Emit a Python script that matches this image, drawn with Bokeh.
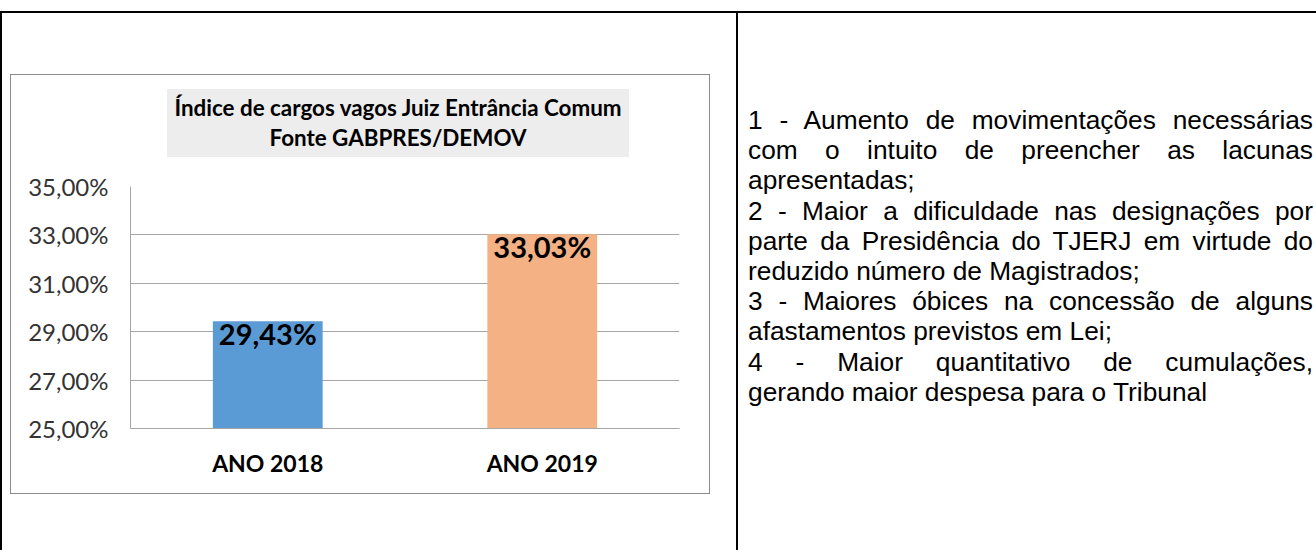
from bokeh.plotting import figure
from bokeh.models import (FactorRange, Range1d, FixedTicker, CustomJSTickFormatter,
                          ColumnDataSource, Div, Spacer)
from bokeh.layouts import row, column
from bokeh.core.properties import value
from bokeh.embed import file_html
from bokeh.resources import INLINE

# ---------------- data ----------------
categories = ["ANO 2018", "ANO 2019"]
values = [29.43, 33.03]
bar_colors = ["#5B9BD5", "#F4B183"]
y_ticks = [25, 27, 29, 31, 33, 35]
title_lines = ["Índice de cargos vagos Juiz Entrância Comum", "Fonte GABPRES/DEMOV"]
note_lines = [
    "1 - Aumento de movimentações necessárias",
    "com o intuito de preencher as lacunas",
    "apresentadas;",
    "2 - Maior a dificuldade nas designações por",
    "parte da Presidência do TJERJ em virtude do",
    "reduzido número de Magistrados;",
    "3 - Maiores óbices na concessão de alguns",
    "afastamentos previstos em Lei;",
    "4 - Maior quantitativo de cumulações,",
    "gerando maior despesa para o Tribunal",
]
note_justified = [True, True, False, True, True, False, True, False, True, False]

# ---------------- chart box: title strip + figure ----------------
BOX_W = 698
TITLE_H = 95
FIG_H = 323
FL, FR, FT, FB = 119, 668, 16, 258   # frame edges inside the figure

title_div = Div(
    text=('<div style="box-sizing:border-box;width:%dpx;height:%dpx;padding:14px 0 0 156px;background:#fff;">'
          '<div style="box-sizing:border-box;width:462px;height:68px;padding-top:4px;background:#EDEDED;'
          'text-align:center;font-family:Lato,sans-serif;font-weight:bold;font-size:22.4px;'
          'line-height:30px;color:#000;">%s</div></div>') % (BOX_W, TITLE_H, "<br>".join(title_lines)),
    width=BOX_W, height=TITLE_H, margin=0)

p = figure(width=BOX_W, height=FIG_H, x_range=FactorRange(*categories),
           y_range=Range1d(25, 35), output_backend="svg", toolbar_location=None,
           min_border_left=FL, min_border_right=BOX_W - FR,
           min_border_top=FT, min_border_bottom=FIG_H - FB, margin=0)
p.outline_line_color = None
p.background_fill_color = "white"
p.border_fill_color = "white"

src = ColumnDataSource(dict(
    x=categories, top=values, color=bar_colors,
    label=[f"{v:.2f}".replace(".", ",") + "%" for v in values],
))
p.vbar(x="x", top="top", bottom=25, width=0.4, color="color", line_color=None, source=src)
p.text(x="x", y="top", text="label", source=src, text_font=value("Lato"),
       text_font_style="bold", text_font_size="29px", text_align="center",
       text_baseline="top", y_offset=-5, text_color="#000000")

grid_col = "#A6A6A6"
p.yaxis.ticker = FixedTicker(ticks=y_ticks)
p.yaxis.formatter = CustomJSTickFormatter(code="return tick.toFixed(2).replace('.', ',') + '%';")
p.yaxis.axis_line_color = grid_col
p.yaxis.major_tick_line_color = None
p.yaxis.minor_tick_line_color = None
p.yaxis.major_tick_out = 0
p.yaxis.major_label_standoff = 22
p.yaxis.major_label_text_font = "Lato"
p.yaxis.major_label_text_font_size = "24px"
p.yaxis.major_label_text_color = "#333333"

p.xaxis.axis_line_color = grid_col
p.xaxis.major_tick_line_color = None
p.xaxis.minor_tick_line_color = None
p.xaxis.major_tick_out = 0
p.xaxis.major_label_standoff = 20
p.xaxis.major_label_text_font = "Lato"
p.xaxis.major_label_text_font_style = "bold"
p.xaxis.major_label_text_font_size = "23px"
p.xaxis.major_label_text_color = "#000000"

p.xgrid.grid_line_color = None
p.ygrid.grid_line_color = grid_col
p.ygrid.grid_line_width = 1

chart_box = column(title_div, p, margin=0,
                   styles={"outline": "1.5px solid #8C8C8C"})

# ---------------- table cell borders (left cell) ----------------
top_div = Div(
    text='<div style="margin-top:11px;border-top:2px solid #000;border-left:2px solid #000;'
         'box-sizing:border-box;width:736px;height:64px;"></div>',
    width=736, height=75, margin=0)
side_div = Div(
    text='<div style="border-left:2px solid #000;box-sizing:border-box;width:11px;height:475px;"></div>',
    width=11, height=475, margin=0)
left_cell = column(top_div, row(side_div, chart_box, Spacer(width=27, height=475), margin=0), margin=0)

# ---------------- right text cell ----------------
lines_html = []
for t, j in zip(note_lines, note_justified):
    st = "text-align:justify;text-align-last:justify;" if j else "text-align:left;"
    lines_html.append(f'<div style="{st}white-space:normal;">{t}</div>')
html = (
    '<div style="margin-top:11px;border-top:2px solid #000;border-left:2px solid #000;'
    'box-sizing:border-box;width:580px;height:539px;padding:92px 3px 0 10px;'
    "font-family:'Liberation Sans',Arial,sans-serif;font-size:26.3px;line-height:30.2px;color:#000;\">"
    + "".join(lines_html) + "</div>"
)
right_div = Div(text=html, width=580, height=550, margin=0)

layout = row(left_cell, right_div, margin=0)
open("out.html", "w").write(file_html(layout, INLINE))
